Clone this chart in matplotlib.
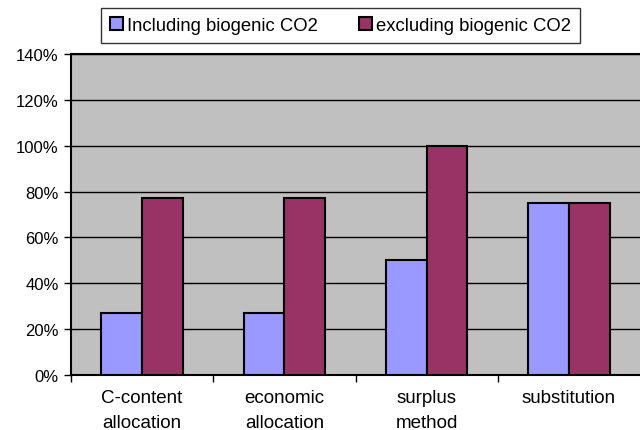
import numpy as np
import matplotlib.pyplot as plt
from matplotlib.ticker import PercentFormatter

plt.rcParams['font.family'] = ['Liberation Sans', 'DejaVu Sans']

# Data
categories = ['C-content\nallocation', 'economic\nallocation', 'surplus\nmethod', 'substitution']
including_bio = [27, 27, 50, 75]
excluding_bio = [77, 77, 100, 75]
series_names = ['Including biogenic CO2', 'excluding biogenic CO2']

fig = plt.figure(figsize=(6.4, 4.31), dpi=100)
ax = fig.add_axes([71 / 640, 55 / 431, 569 / 640, 321 / 431])
ax.set_facecolor('#C0C0C0')

x = np.arange(len(categories))
w = 0.287
ax.bar(x - w / 2, including_bio, w, color='#9999FF', edgecolor='black',
       linewidth=1.5, label=series_names[0], zorder=3)
ax.bar(x + w / 2, excluding_bio, w, color='#993366', edgecolor='black',
       linewidth=1.5, label=series_names[1], zorder=3)

ax.set_xlim(-0.5, len(categories) - 0.5)
ax.set_ylim(0, 140)
ax.set_yticks(np.arange(0, 141, 20))
ax.yaxis.set_major_formatter(PercentFormatter(decimals=0))
ax.yaxis.grid(True, color='black', linewidth=1.0, zorder=0)

# category ticks sit between groups; labels go through minor ticks
ax.set_xticks(np.arange(len(categories)) - 0.5)
ax.set_xticklabels([])
ax.set_xticks(x, minor=True)
ax.set_xticklabels(categories, minor=True, fontsize=13.5, linespacing=1.6,
                   va='top')
ax.tick_params(axis='x', which='minor', length=0, pad=10)
ax.tick_params(axis='x', which='major', length=5, width=1)
ax.tick_params(axis='y', length=5, width=1, labelsize=12, pad=4)

for side in ['right']:
    ax.spines[side].set_visible(False)
for side in ['left', 'bottom', 'top']:
    ax.spines[side].set_linewidth(1.5)

leg = fig.legend(loc='upper center', bbox_to_anchor=(0.532, 1 - 9 / 431),
                 ncol=2, fontsize=13.3, frameon=True, fancybox=False,
                 edgecolor='black', borderaxespad=0,
                 handlelength=0.7, handleheight=0.7, handletextpad=0.25,
                 columnspacing=2.2, borderpad=0.5)
leg.get_frame().set_linewidth(1.0)

fig.savefig('out.png', dpi=100, facecolor='white')
